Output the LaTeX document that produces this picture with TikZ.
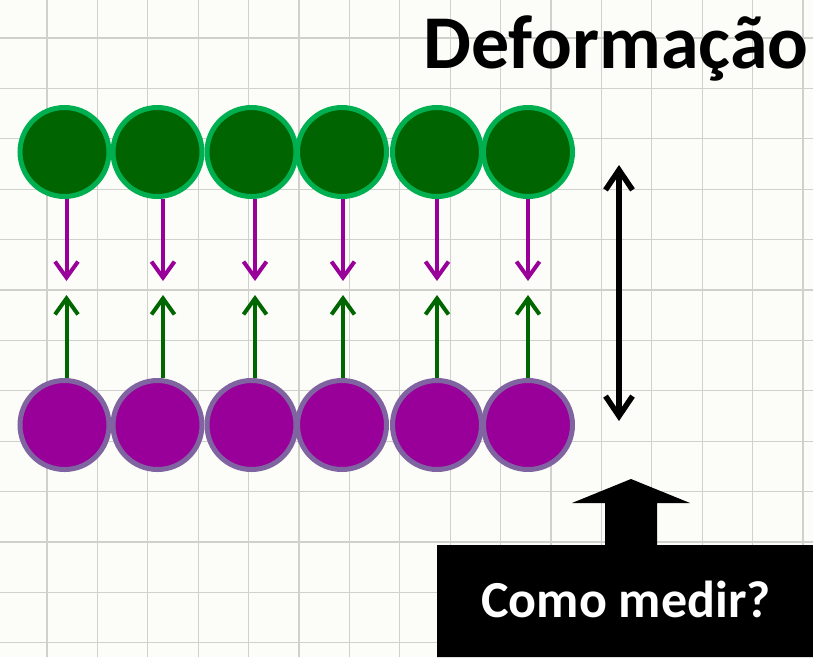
\documentclass[tikz,border=0pt]{standalone}
\usepackage{fontspec}
\setmainfont{Carlito}
\usetikzlibrary{arrows.meta}
\definecolor{paper}{RGB}{252,253,248}
\definecolor{gridline}{RGB}{208,209,204}
\definecolor{topfill}{RGB}{0,100,0}
\definecolor{topline}{RGB}{0,176,80}
\definecolor{botfill}{RGB}{153,0,153}
\definecolor{botline}{RGB}{128,100,162}
\definecolor{uparrow}{RGB}{0,102,0}

\begin{document}
\begin{tikzpicture}[x=1pt,y=-1pt,
    topatom/.style={circle, draw=topline, fill=topfill, line width=5pt, minimum size=89pt, inner sep=0pt},
    botatom/.style={circle, draw=botline, fill=botfill, line width=5pt, minimum size=89pt, inner sep=0pt},
    pulldown/.style={draw=botfill, line width=4pt, -{Straight Barb[length=16pt,width=23pt]}},
    pullup/.style={draw=uparrow, line width=4pt, -{Straight Barb[length=16pt,width=23pt]}},
    gap/.style={line width=5.5pt, {Straight Barb[length=20pt,width=27pt]}-{Straight Barb[length=20pt,width=27pt]}}
]
    % papel quadriculado
    \fill[paper] (0,0) rectangle (813,657);
    \useasboundingbox (0,0) rectangle (813,657);
    \foreach \k in {0,...,15} {
        \draw[gridline, line width=1.3pt] (47+50.4*\k,0) -- (47+50.4*\k,657);
    }
    \foreach \k in {0,...,12} {
        \draw[gridline, line width=1.3pt] (0,38+50.4*\k) -- (813,38+50.4*\k);
    }

    \node[anchor=base, font=\bfseries\fontsize{76}{80}\selectfont] (title) at (616,68) {Deformação};

    % duas camadas de atomos
    \foreach \i/\x/\ax in {1/64.5/66.5, 2/157.5/163, 3/251.5/255, 4/342/343, 5/437/437, 6/528/528} {
        \node[topatom] (g\i) at (\x,152) {};
        \node[botatom] (p\i) at (\x,425) {};
        \coordinate (dn\i) at (\ax,281);
        \coordinate (up\i) at (\ax,295);
        \draw[pulldown] (g\i.south -| dn\i) -- (dn\i);
        \draw[pullup] (p\i.north -| up\i) -- (up\i);
    }

    \coordinate (gaptop) at (619,165);
    \coordinate (gapbot) at (619,421);
    \draw[gap] (gaptop) -- (gapbot);

    % caixa com seta
    \fill[black] (437,545) -- (605,545) -- (605,503) -- (572,503) -- (631,479)
        -- (690,503) -- (657,503) -- (657,545) -- (813,545) -- (813,657) -- (437,657) -- cycle;
    \node[anchor=base, text=white, font=\bfseries\fontsize{52}{56}\selectfont] (ask) at (626,617) {Como medir?};
\end{tikzpicture}
\end{document}
